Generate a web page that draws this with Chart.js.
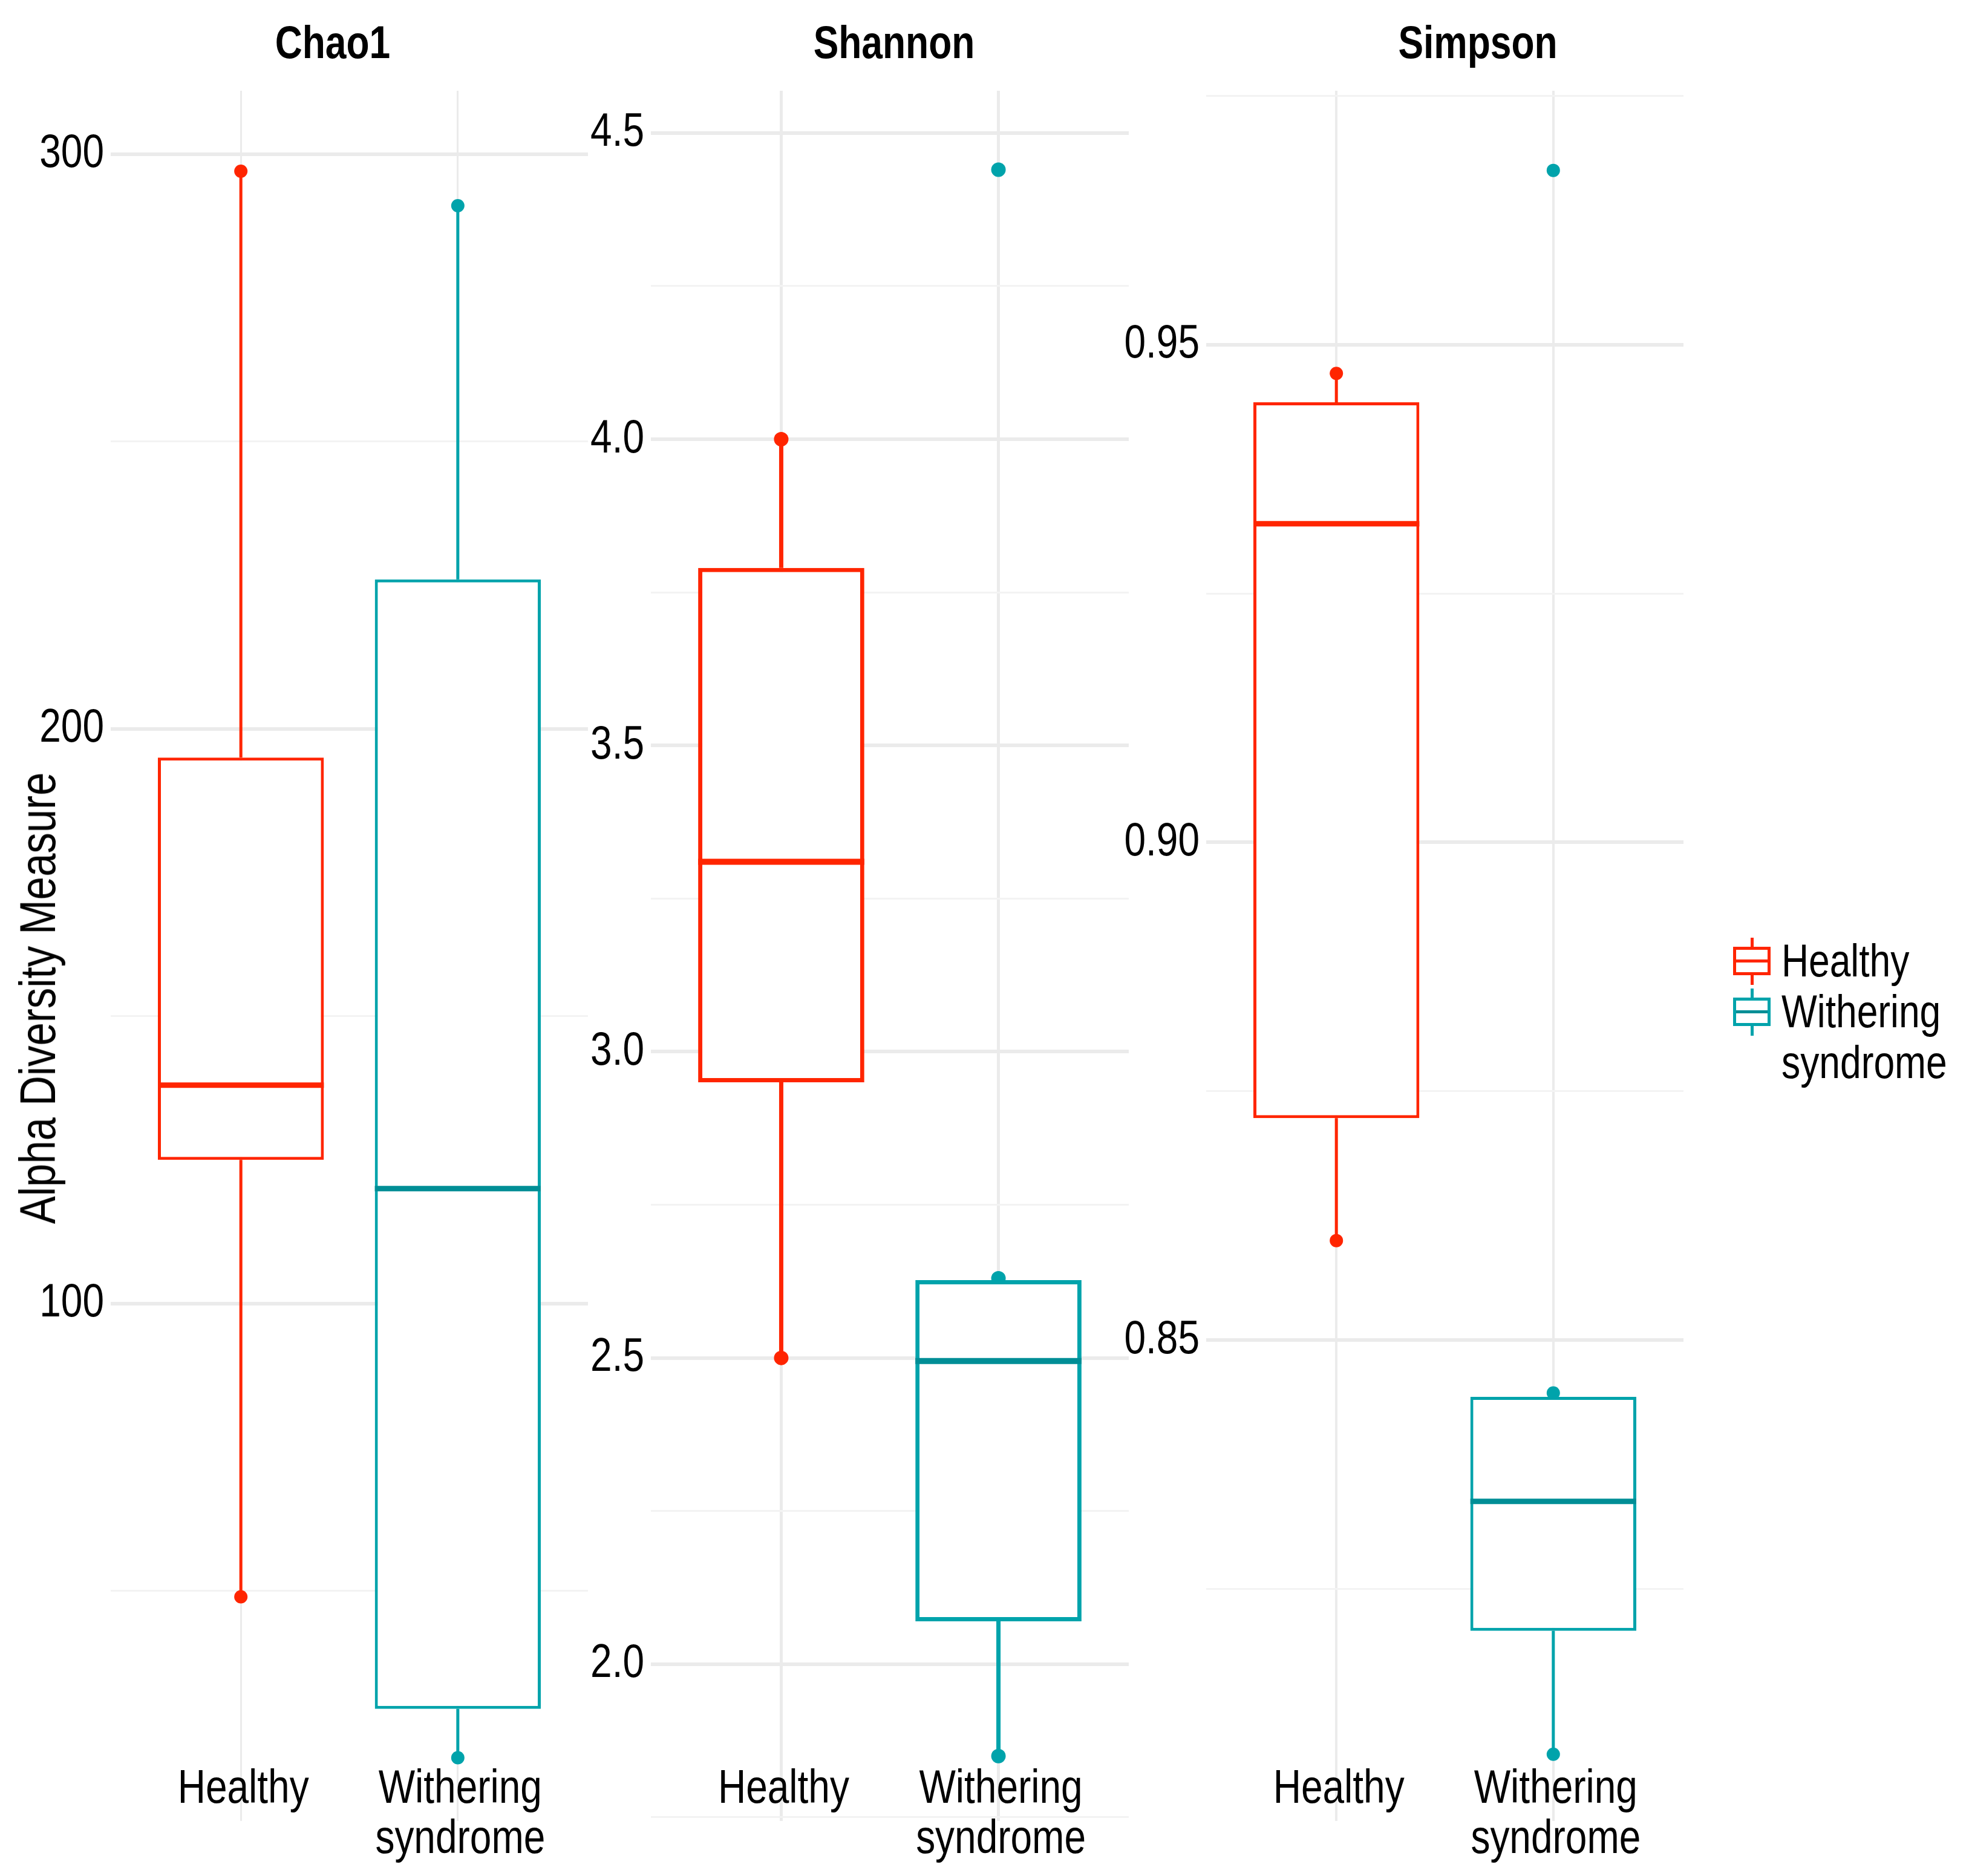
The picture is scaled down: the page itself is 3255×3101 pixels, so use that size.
<!DOCTYPE html>
<html>
<head>
<meta charset="utf-8">
<script src="https://cdn.jsdelivr.net/npm/chart.js@4.4.1/dist/chart.umd.min.js"></script>
<style>
  body { margin: 0; background: #fff; width: 3255px; height: 3101px; position: relative; overflow: hidden;
         font-family: "Liberation Sans", Arial, sans-serif; color: #000; }
  canvas { position: absolute; top: 0; }
  .title { position: absolute; top: 32px; font-size: 76px; line-height: 76px; font-weight: bold; white-space: nowrap;
           transform: translateX(-50%) scaleX(0.82); }
  .ytitle { position: absolute; left: 62px; top: 1650px; font-size: 84px; line-height: 84px; white-space: nowrap;
            transform: translate(-50%, -50%) rotate(-90deg) scaleX(0.82); }
  .legend { position: absolute; left: 2865px; top: 1546px; font-size: 76px; line-height: 84px; }
  .legend .item { position: relative; }
  .legend .txt { display: inline-block; margin-left: 80px; transform: scaleX(0.82); transform-origin: left center; white-space: nowrap; }
  .legend .icon { position: absolute; left: 0; width: 62px; height: 47px; box-sizing: border-box; border: 5px solid; background: #fff; }
  .legend .icon .mid { position: absolute; left: 0; right: 0; top: 16px; height: 5px; }
  .legend .whisk { position: absolute; left: 29px; width: 5px; height: 78px; }
</style>
</head>
<body>
<canvas id="chao1" width="972" height="3101" style="left:0px;width:972px;height:3101px"></canvas>
<canvas id="shannon" width="966" height="3101" style="left:900px;width:966px;height:3101px"></canvas>
<canvas id="simpson" width="983" height="3101" style="left:1800px;width:983px;height:3101px"></canvas>

<div class="title" style="left:550px">Chao1</div>
<div class="title" style="left:1478px">Shannon</div>
<div class="title" style="left:2443px">Simpson</div>
<div class="ytitle">Alpha Diversity Measure</div>

<div class="legend">
  <div class="item">
    <span class="whisk" style="top:4px;background:#FF2500"></span>
    <span class="icon" style="top:19px;border-color:#FF2500"><span class="mid" style="background:#FF2500"></span></span>
    <span class="txt">Healthy</span>
  </div>
  <div class="item">
    <span class="whisk" style="top:4px;background:#00A3AB"></span>
    <span class="icon" style="top:19px;border-color:#00A3AB"><span class="mid" style="background:#008E96"></span></span>
    <span class="txt">Withering<br>syndrome</span>
  </div>
</div>

<script>
const groups = ['Healthy', 'Withering syndrome'];
const groupLines = [['Healthy'], ['Withering', 'syndrome']];
const groupColors = ['#FF2500', '#00A3AB'];
const medianColors = ['#FF2500', '#008E96'];

// Chao1
const chao1Low = [49, 21];
const chao1Q1 = [125, 29.5];
const chao1Median = [138, 120];
const chao1Q3 = [195, 226];
const chao1High = [297, 291];
const chao1Outliers = [[], []];
const chao1Ticks = [50, 100, 150, 200, 250, 300];
const chao1Labels = ['', '100', '', '200', '', '300'];

// Shannon
const shannonLow = [2.50, 1.85];
const shannonQ1 = [2.95, 2.07];
const shannonMedian = [3.31, 2.495];
const shannonQ3 = [3.79, 2.627];
const shannonHigh = [4.00, 2.63];
const shannonOutliers = [[], [4.44]];
const shannonTicks = [1.75, 2.0, 2.25, 2.5, 2.75, 3.0, 3.25, 3.5, 3.75, 4.0, 4.25, 4.5];
const shannonLabels = ['', '2.0', '', '2.5', '', '3.0', '', '3.5', '', '4.0', '', '4.5'];

// Simpson
const simpsonLow = [0.860, 0.8084];
const simpsonQ1 = [0.8723, 0.8208];
const simpsonMedian = [0.932, 0.8338];
const simpsonQ3 = [0.9442, 0.8443];
const simpsonHigh = [0.9471, 0.8447];
const simpsonOutliers = [[], [0.9675]];
const simpsonTicks = [0.825, 0.85, 0.875, 0.90, 0.925, 0.95, 0.975];
const simpsonLabels = ['', '0.85', '', '0.90', '', '0.95', ''];

const FONT = '"Liberation Sans", Arial, sans-serif';
const NARROW = 0.82;   // squeeze text like the narrow face of the original
const BOX_WIDTH = 0.765;

// draw the y tick labels of the library a bit narrower, anchored at their right edge
const narrowTicks = {
  id: 'narrowTicks',
  beforeDraw(chart) {
    const y = chart.scales.y;
    if (y._narrow) return;
    y._narrow = true;
    const orig = y.drawLabels;
    y.drawLabels = function (area) {
      const ctx = this.ctx;
      const ax = this.right - this.options.ticks.padding;
      ctx.save();
      ctx.translate(ax, 0);
      ctx.scale(NARROW, 1);
      ctx.translate(-ax, 0);
      orig.call(this, area);
      ctx.restore();
    };
  }
};

const xLabelPlugin = {
  id: 'xLabels',
  afterDraw(chart) {
    const { ctx, chartArea } = chart;
    const x = chart.scales.x;
    ctx.save();
    ctx.font = '78px ' + FONT;
    ctx.fillStyle = '#000';
    ctx.textAlign = 'center';
    ctx.textBaseline = 'middle';
    groupLines.forEach((lines, i) => {
      const px = x.getPixelForValue(i + 1) + 4;
      lines.forEach((t, j) => {
        ctx.save();
        ctx.translate(px, chartArea.bottom - 52 + j * 83);
        ctx.scale(NARROW, 1);
        ctx.fillText(t, 0, 0);
        ctx.restore();
      });
    });
    ctx.restore();
  }
};

function makePanel(id, s) {
  const datasets = [];
  datasets.push({
    type: 'bar',
    data: groups.map((g, i) => ({ x: i + 1, y: [s.q1[i], s.q3[i]] })),
    backgroundColor: '#ffffff',
    borderColor: groupColors,
    borderWidth: s.lw,
    borderSkipped: false,
    barPercentage: BOX_WIDTH,
    categoryPercentage: 1,
    order: 1
  });
  groups.forEach((g, i) => {
    const c = groupColors[i];
    // whiskers with end dots
    [[s.q3[i], s.high[i]], [s.q1[i], s.low[i]]].forEach(([from, to]) => {
      datasets.push({
        type: 'line',
        data: [{ x: i + 1, y: from }, { x: i + 1, y: to }],
        borderColor: c,
        borderWidth: s.lw,
        pointRadius: [0, s.dot],
        pointBackgroundColor: c,
        pointBorderWidth: 0,
        order: 2
      });
    });
    // median
    datasets.push({
      type: 'line',
      data: [{ x: i + 1 - BOX_WIDTH / 2, y: s.median[i] }, { x: i + 1 + BOX_WIDTH / 2, y: s.median[i] }],
      borderColor: medianColors[i],
      borderWidth: s.mlw,
      borderCapStyle: 'butt',
      pointRadius: 0,
      order: 0
    });
    // outliers
    datasets.push({
      type: 'scatter',
      data: s.outliers[i].map(v => ({ x: i + 1, y: v })),
      pointRadius: s.dot,
      pointBackgroundColor: c,
      pointBorderWidth: 0,
      order: 0
    });
  });

  return new Chart(document.getElementById(id), {
    type: 'bar',
    data: { datasets },
    plugins: [narrowTicks, xLabelPlugin],
    options: {
      responsive: false,
      animation: false,
      devicePixelRatio: 1,
      layout: { autoPadding: false, padding: { top: 150, bottom: 91, left: 0, right: 0 } },
      plugins: { legend: { display: false }, tooltip: { enabled: false } },
      scales: {
        x: {
          type: 'linear',
          min: 0.4,
          max: 2.6,
          offset: false,
          afterBuildTicks: sc => { sc.ticks = groups.map((g, i) => ({ value: i + 1 })); },
          afterFit: sc => { sc.height = 0; },
          ticks: { display: false },
          grid: { offset: false, color: '#EBEBEB', lineWidth: s.vgrid, drawTicks: false },
          border: { display: false }
        },
        y: {
          type: 'linear',
          min: s.min,
          max: s.max,
          afterBuildTicks: sc => { sc.ticks = s.ticks.map(v => ({ value: v })); },
          afterFit: sc => { sc.width = s.axisWidth; },
          ticks: {
            callback: (v, idx) => s.labels[idx],
            color: '#000',
            padding: 11,
            font: { family: FONT, size: 78 }
          },
          grid: {
            color: c => s.labels[c.index] ? '#EBEBEB' : '#F3F3F3',
            lineWidth: c => s.labels[c.index] ? 6 : 3,
            drawTicks: false
          },
          border: { display: false }
        }
      }
    }
  });
}

makePanel('chao1', {
  low: chao1Low, q1: chao1Q1, median: chao1Median, q3: chao1Q3, high: chao1High, outliers: chao1Outliers,
  ticks: chao1Ticks, labels: chao1Labels, min: 10, max: 311, axisWidth: 183,
  lw: 5, mlw: 9, dot: 11, vgrid: 3
});
makePanel('shannon', {
  low: shannonLow, q1: shannonQ1, median: shannonMedian, q3: shannonQ3, high: shannonHigh, outliers: shannonOutliers,
  ticks: shannonTicks, labels: shannonLabels, min: 1.744, max: 4.569, axisWidth: 176,
  lw: 7, mlw: 10, dot: 12, vgrid: 5
});
makePanel('simpson', {
  low: simpsonLow, q1: simpsonQ1, median: simpsonMedian, q3: simpsonQ3, high: simpsonHigh, outliers: simpsonOutliers,
  ticks: simpsonTicks, labels: simpsonLabels, min: 0.8017, max: 0.9755, axisWidth: 194,
  lw: 5, mlw: 9, dot: 11, vgrid: 4
});
</script>
</body>
</html>
